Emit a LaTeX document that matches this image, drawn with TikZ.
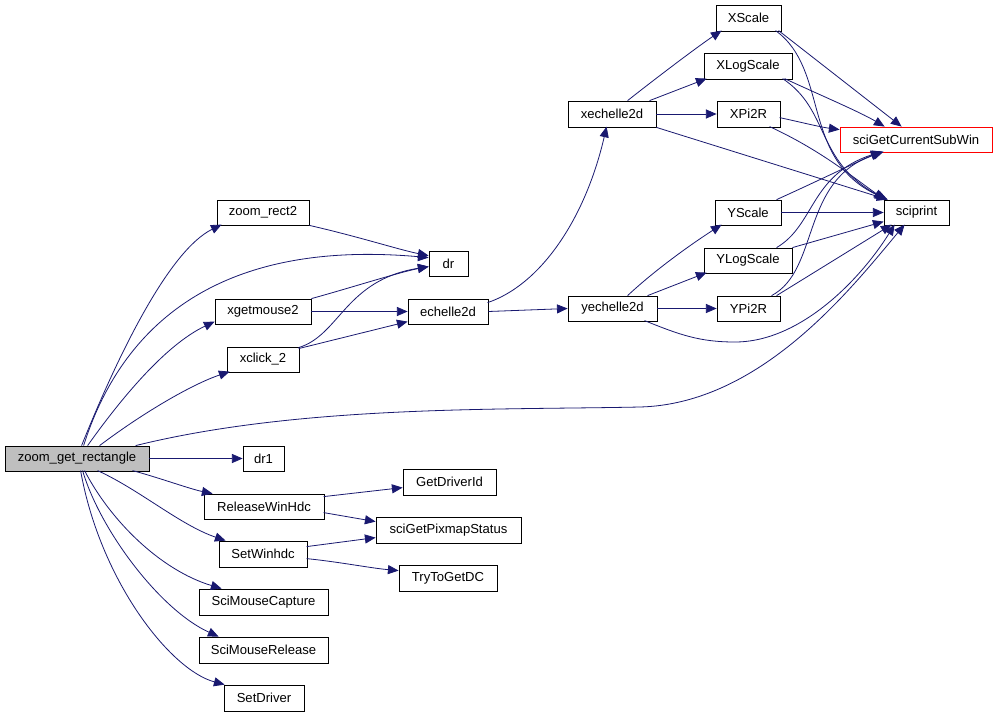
\documentclass[tikz,border=0pt]{standalone}
\usepackage{fontspec}
\setmainfont{Liberation Sans}
\usetikzlibrary{arrows.meta,calc}
\definecolor{edgeblue}{HTML}{191970}
\definecolor{nodegray}{HTML}{BFBFBF}
\newcommand\mybox[7][]{%
  \node[nbox,#1,minimum width={(#5-#3)*0.75pt},minimum height={(#6-#4)*0.75pt}]
    (#2) at ({(#3+#5)/2},{(#4+#6)/2}) {#7};}
\begin{document}
\begin{tikzpicture}[x=0.75pt,y=-0.75pt,
  nbox/.style={draw=black,line width=0.6pt,rectangle,inner sep=0pt,
    font=\fontsize{9.8}{11}\selectfont,text=black},
  link/.style={draw=edgeblue,line width=0.6pt,
    -{Triangle[length=8pt,width=6.8pt,fill=edgeblue]}}]
\useasboundingbox[fill=white] (0,0) rectangle (997,714);
% nodes
\mybox[fill=nodegray]{zgr}{5}{446}{149}{471}{zoom\_get\_rectangle}
\mybox{zr2}{217}{200}{309}{225}{zoom\_rect2}
\mybox{dr}{429}{251}{468}{276}{dr}
\mybox{xgm}{215}{299}{311}{324}{xgetmouse2}
\mybox{ech}{408}{299}{488}{324}{echelle2d}
\mybox{xcl}{227}{347}{299}{372}{xclick\_2}
\mybox{dra}{243}{446}{284}{471}{dr1}
\mybox{rwh}{204}{494}{324}{519}{ReleaseWinHdc}
\mybox{gdi}{403}{469}{496}{495}{GetDriverId}
\mybox{sgps}{376}{517}{521}{543}{sciGetPixmapStatus}
\mybox{swh}{219}{541}{307}{567}{SetWinhdc}
\mybox{ttg}{399}{565}{497}{591}{TryToGetDC}
\mybox{smc}{199}{589}{328}{615}{SciMouseCapture}
\mybox{smr}{199}{637}{328}{663}{SciMouseRelease}
\mybox{sdr}{224}{685}{304}{711}{SetDriver}
\mybox{xech}{568}{101}{656}{127}{xechelle2d}
\mybox{xsc}{716}{5}{781}{31}{XScale}
\mybox{xls}{704}{53}{792}{79}{XLogScale}
\mybox{xpi}{717}{101}{780}{127}{XPi2R}
\mybox[draw=red]{scsw}{840}{127}{992}{152}{sciGetCurrentSubWin}
\mybox{ysc}{715}{200}{781}{225}{YScale}
\mybox{spr}{884}{200}{949}{225}{sciprint}
\mybox{yls}{704}{248}{792}{273}{YLogScale}
\mybox{yech}{568}{296}{657}{321}{yechelle2d}
\mybox{ypi}{717}{296}{780}{321}{YPi2R}
% edges from zoom_get_rectangle
\draw[link] ($(zgr.north west)+(77,0)$) .. controls (120,350) and (170,250) .. ($(zr2.north west)+(5,25)$);
\draw[link] ($(zgr.north west)+(79,0)$) .. controls (125,315) and (230,240) .. ($(dr.north west)+(0,7)$);
\draw[link] ($(zgr.north west)+(83,0)$) .. controls (120,400) and (165,345) .. ($(xgm.north west)+(0,23)$);
\draw[link] ($(zgr.north west)+(95,0)$) .. controls (140,415) and (190,385) .. ($(xcl.north west)+(3,25)$);
\draw[link] ($(zgr.north west)+(131,0)$) .. controls (300,405) and (500,410) .. (640,407) .. controls (760,404) and (850,290) .. ($(spr.north west)+(21,25)$);
\draw[link] (zgr.east) -- (dra.west);
\draw[link] ($(zgr.north west)+(128,25)$) .. controls (160,478) and (190,489) .. ($(rwh.north west)+(9,0)$);
\draw[link] ($(zgr.north west)+(93,25)$) .. controls (140,490) and (180,525) .. ($(swh.north west)+(7,0)$);
\draw[link] ($(zgr.north west)+(80,25)$) .. controls (110,520) and (160,570) .. ($(smc.north west)+(23,0)$);
\draw[link] ($(zgr.north west)+(78,25)$) .. controls (100,530) and (160,610) .. ($(smr.north west)+(20,0)$);
\draw[link] ($(zgr.north west)+(76,25)$) .. controls (100,580) and (170,670) .. ($(sdr.north west)+(1,0)$);
% middle layer
\draw[link] (zr2.south east) .. controls (360,237) and (400,250) .. ($(dr.north west)+(0,5)$);
\draw[link] (xgm.north east) .. controls (350,288) and (400,272) .. ($(dr.north west)+(0,16)$);
\draw[link] (xgm.east) -- (ech.west);
\draw[link] ($(xcl.north west)+(72,1)$) .. controls (340,335) and (345,280) .. ($(dr.north west)+(0,16)$);
\draw[link] ($(xcl.north west)+(72,2)$) -- ($(ech.north west)+(0,23)$);
\draw[link] ($(ech.north west)+(80,4)$) .. controls (540,285) and (585,220) .. ($(xech.north west)+(39,26)$);
\draw[link] (ech.east) -- (yech.west);
% xechelle2d
\draw[link] ($(xech.north west)+(60,0)$) .. controls (660,75) and (700,45) .. ($(xsc.north west)+(6,26)$);
\draw[link] ($(xech.north west)+(82,0)$) -- ($(xls.north west)+(3,26)$);
\draw[link] (xech.east) -- (xpi.west);
\draw[link] (xech.south east) -- ($(spr.north west)+(4,0)$);
% yechelle2d
\draw[link] ($(yech.north west)+(60,0)$) .. controls (655,270) and (690,245) .. ($(ysc.north west)+(7,25)$);
\draw[link] ($(yech.north west)+(80,0)$) -- ($(yls.north west)+(3,25)$);
\draw[link] (yech.east) -- (ypi.west);
\draw[link] ($(yech.north west)+(77,25)$) .. controls (680,335) and (700,342) .. (735,342) .. controls (800,342) and (860,280) .. ($(spr.north west)+(11,25)$);
% X... to sciGetCurrentSubWin / sciprint
\draw[link] ($(xsc.north west)+(63,26)$) -- ($(scsw.north west)+(62,0)$);
\draw[link] ($(xsc.north west)+(60,26)$) .. controls (830,70) and (800,160) .. ($(spr.north west)+(4,0)$);
\draw[link] ($(xls.north west)+(81,26)$) .. controls (820,95) and (860,112) .. ($(scsw.north west)+(45,0)$);
\draw[link] ($(xls.north west)+(79,26)$) .. controls (830,110) and (815,160) .. ($(spr.north west)+(2,0)$);
\draw[link] ($(xpi.north west)+(63,17)$) .. controls (800,122) and (820,127) .. ($(scsw.north west)+(0,3)$);
\draw[link] ($(xpi.north west)+(53,26)$) .. controls (820,150) and (850,175) .. ($(spr.north west)+(1,0)$);
% Y... to sciGetCurrentSubWin / sciprint
\draw[link] ($(ysc.north west)+(62,0)$) .. controls (820,180) and (850,165) .. ($(scsw.north west)+(42,25)$);
\draw[link] (ysc.east) -- (spr.west);
\draw[link] ($(yls.north west)+(73,0)$) .. controls (815,225) and (810,175) .. ($(scsw.north west)+(42,25)$);
\draw[link] (yls.north east) -- ($(spr.north west)+(0,22)$);
\draw[link] ($(ypi.north west)+(55,0)$) .. controls (820,270) and (800,180) .. ($(scsw.north west)+(44,25)$);
\draw[link] ($(ypi.north west)+(60,0)$) -- ($(spr.north west)+(8,25)$);
% lower right
\draw[link] ($(rwh.north west)+(120,3)$) -- ($(gdi.north west)+(0,19)$);
\draw[link] ($(rwh.north west)+(120,19)$) -- ($(sgps.north west)+(0,5)$);
\draw[link] ($(swh.north west)+(88,6)$) -- ($(sgps.north west)+(0,21)$);
\draw[link] ($(swh.north west)+(88,18)$) .. controls (340,562) and (370,568) .. ($(ttg.north west)+(0,6)$);
\end{tikzpicture}
\end{document}
